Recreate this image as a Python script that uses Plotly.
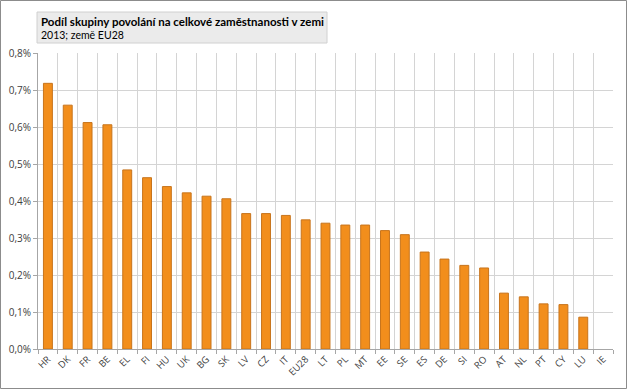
import plotly.graph_objects as go

countries = ["HR", "DK", "FR", "BE", "EL", "FI", "HU", "UK", "BG", "SK", "LV", "CZ", "IT", "EU28",
             "LT", "PL", "MT", "EE", "SE", "ES", "DE", "SI", "RO", "AT", "NL", "PT", "CY", "LU", "IE"]
share_pct = [0.718, 0.659, 0.612, 0.606, 0.484, 0.463, 0.439, 0.422, 0.413, 0.406, 0.366, 0.366,
             0.361, 0.349, 0.340, 0.335, 0.335, 0.320, 0.309, 0.262, 0.243, 0.226, 0.219, 0.151,
             0.141, 0.122, 0.120, 0.086, 0.0]
y_ticks = [0.0, 0.1, 0.2, 0.3, 0.4, 0.5, 0.6, 0.7, 0.8]
y_ticktext = ["0,0%", "0,1%", "0,2%", "0,3%", "0,4%", "0,5%", "0,6%", "0,7%", "0,8%"]

W, H = 627, 389
ml, mr, mt, mb = 38, 14, 53, 40
pw, ph = W - ml - mr, H - mt - mb

fig = go.Figure(go.Bar(
    x=countries, y=share_pct,
    marker=dict(color="#F28E1C",
                line=dict(color="#C7741C", width=[0 if v == 0 else 1 for v in share_pct])),
    width=0.45,
))

font = "Open Sans, Segoe UI, sans-serif"
tfont = "Lato, Segoe UI, sans-serif"
fig.update_layout(
    width=W, height=H,
    margin=dict(l=ml, r=mr, t=mt, b=mb, pad=0),
    paper_bgcolor="white", plot_bgcolor="white",
    showlegend=False,
    font=dict(family=font, size=10, color="#404040"),
)
fig.update_xaxes(
    type="category", tickson="boundaries", showgrid=True, gridcolor="#D4D4D4", gridwidth=1,
    ticks="outside", ticklen=4, tickcolor="#A6A6A6",
    showline=True, linecolor="#A6A6A6", tickangle=-45,
    tickfont=dict(size=9.5, color="#404040"),
    automargin=False,
)
fig.update_yaxes(
    range=[0, 0.8], tickvals=y_ticks, ticktext=y_ticktext,
    showgrid=True, gridcolor="#D4D4D4", gridwidth=1,
    ticks="outside", ticklen=4, tickcolor="#A6A6A6",
    showline=True, linecolor="#A6A6A6", zeroline=False,
    tickfont=dict(size=10, color="#404040"),
    automargin=False,
)

def px_x(v):
    return (v - ml) / pw

def px_y(v):
    return (H - mb - v) / ph

# outer border
fig.add_shape(type="rect", xref="paper", yref="paper",
              x0=px_x(0.5), x1=px_x(W - 0.5), y0=px_y(H - 0.5), y1=px_y(0.5),
              line=dict(color="#8C8C8C", width=1), fillcolor="rgba(0,0,0,0)", layer="above")
# title box
fig.add_shape(type="rect", xref="paper", yref="paper",
              x0=px_x(37), x1=px_x(327), y0=px_y(43), y1=px_y(12),
              line=dict(color="#D0D0D0", width=1), fillcolor="#EBEBEB", layer="below")
fig.add_annotation(xref="paper", yref="paper", x=px_x(39), y=px_y(13), xanchor="left", yanchor="top",
                   text="<b>Podíl skupiny povolání na celkové zaměstnanosti v zemi</b>",
                   showarrow=False, font=dict(family=tfont, size=11.5, color="#000000"))
fig.add_annotation(xref="paper", yref="paper", x=px_x(39), y=px_y(27), xanchor="left", yanchor="top",
                   text="2013; země EU28",
                   showarrow=False, font=dict(family=tfont, size=10.5, color="#000000"))

fig.write_html("out.html", config={"displayModeBar": False},
               post_script="document.body.style.margin='0';document.body.style.padding='0';")
